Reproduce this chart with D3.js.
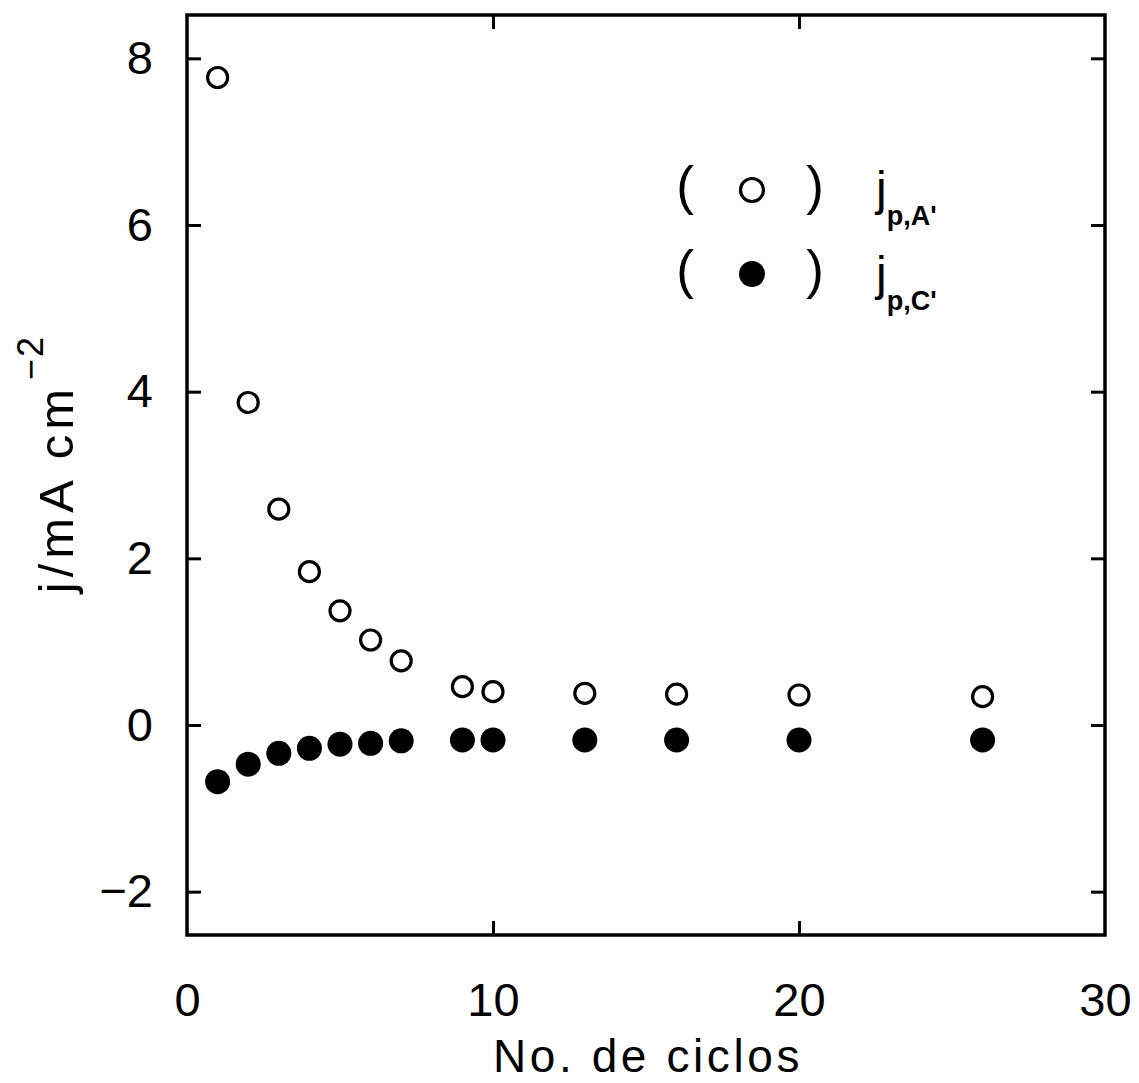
<!DOCTYPE html>
<html><head><meta charset="utf-8">
<script src="https://cdn.jsdelivr.net/npm/d3@7"></script>
<style>body{margin:0;background:#fff}</style>
</head><body>
<script>
const cycles = [1,2,3,4,5,6,7,9,10,13,16,20,26];
const jpA = [7.77,3.87,2.59,1.84,1.37,1.02,0.77,0.46,0.40,0.38,0.37,0.36,0.34];
const jpC = [-0.68,-0.47,-0.34,-0.28,-0.23,-0.22,-0.19,-0.18,-0.18,-0.18,-0.18,-0.18,-0.18];
const xTicks = [0,10,20,30];
const yTicks = [-2,0,2,4,6,8];
const xDomain = [0,30];
const yDomain = [-2.52,8.52];
const legendItems = [{label:"j", sub:"p,A'", open:true},{label:"j", sub:"p,C'", open:false}];

const W=1139,H=1083;
const m={l:187,r:1105,t:15,b:935};
const font="'Liberation Sans', Arial, sans-serif";
const svg=d3.select("body").append("svg").attr("width",W).attr("height",H);
const x=d3.scaleLinear().domain(xDomain).range([m.l,m.r]);
const y=d3.scaleLinear().domain(yDomain).range([m.b,m.t]);

svg.append("rect").attr("x",m.l).attr("y",m.t).attr("width",m.r-m.l).attr("height",m.b-m.t)
  .attr("fill","none").attr("stroke","#000").attr("stroke-width",3.5);

const tl=14;
const gBottom=svg.append("g").attr("transform",`translate(0,${m.b})`)
  .call(d3.axisBottom(x).tickValues(xTicks).tickSize(-tl).tickPadding(48).tickFormat(d3.format("d")));
const gTop=svg.append("g").attr("transform",`translate(0,${m.t})`)
  .call(d3.axisTop(x).tickValues(xTicks).tickSize(-tl).tickFormat(""));
const gLeft=svg.append("g").attr("transform",`translate(${m.l},0)`)
  .call(d3.axisLeft(y).tickValues(yTicks).tickSize(-tl).tickPadding(34).tickFormat(d=>d<0?"\u2212"+Math.abs(d):d));
const gRight=svg.append("g").attr("transform",`translate(${m.r},0)`)
  .call(d3.axisRight(y).tickValues(yTicks).tickSize(-tl).tickFormat(""));
[gBottom,gTop,gLeft,gRight].forEach(g=>{
  g.select(".domain").remove();
  g.selectAll(".tick line").attr("stroke","#000").attr("stroke-width",3);
  g.selectAll("text").attr("font-family",font).attr("font-size",47).attr("fill","#000");
});
[gBottom,gTop].forEach(g=>g.selectAll(".tick line").filter(d=>d===0||d===30).remove());

const pts=cycles.map((c,i)=>({c,a:jpA[i],k:jpC[i]}));
svg.append("g").selectAll("circle").data(pts).join("circle")
  .attr("cx",d=>x(d.c)).attr("cy",d=>y(d.k)).attr("r",12.5).attr("fill","#000");
svg.append("g").selectAll("circle").data(pts).join("circle")
  .attr("cx",d=>x(d.c)).attr("cy",d=>y(d.a)).attr("r",10).attr("fill","#fff")
  .attr("stroke","#000").attr("stroke-width",3.2);

// legend
legendItems.forEach((L,i)=>{
  const cy=190+i*84, base=205+i*85;
  svg.append("text").attr("x",685).attr("y",cy+14).attr("text-anchor","middle")
    .attr("font-family",font).attr("font-size",53).text("(");
  svg.append("text").attr("x",815).attr("y",cy+14).attr("text-anchor","middle")
    .attr("font-family",font).attr("font-size",53).text(")");
  const c=svg.append("circle").attr("cx",752).attr("cy",cy);
  if(L.open) c.attr("r",11.5).attr("fill","#fff").attr("stroke","#000").attr("stroke-width",3.2);
  else c.attr("r",13).attr("fill","#000");
  const t=svg.append("text").attr("x",876).attr("y",base).attr("font-family",font).attr("font-size",48);
  t.append("tspan").text(L.label);
  t.append("tspan").attr("dy",20).attr("font-size",27).attr("font-weight","bold").text(L.sub);
});

svg.append("text").attr("x",(m.l+m.r)/2+2).attr("y",1072).attr("text-anchor","middle")
  .attr("font-family",font).attr("font-size",46).attr("letter-spacing",3.6).text("No. de ciclos");
const yt=svg.append("text").attr("transform","translate(73,464) rotate(-90)").attr("text-anchor","middle")
  .attr("font-family",font).attr("font-size",49).attr("letter-spacing",5);
yt.append("tspan").text("j/mA cm");
yt.append("tspan").attr("dx",4).attr("dy",-30).attr("font-size",36).attr("letter-spacing",2).text("\u22122");
</script>
</body></html>
